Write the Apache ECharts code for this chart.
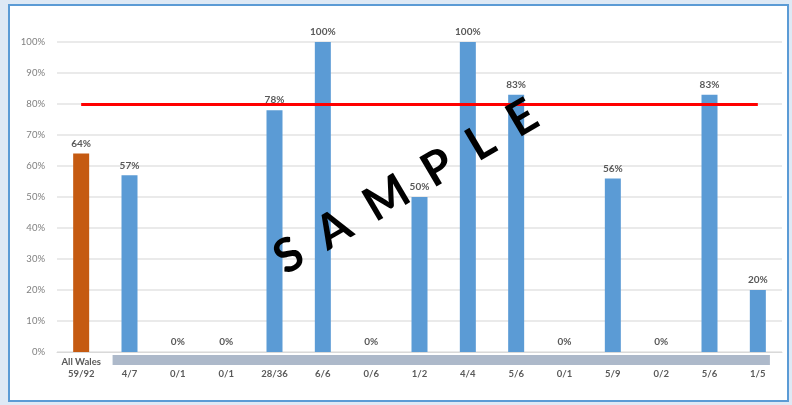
<!DOCTYPE html>
<html><head><meta charset="utf-8">
<script src="https://cdn.jsdelivr.net/npm/echarts@6/dist/echarts.min.js"></script>
<style>html,body{margin:0;padding:0;background:#dee9f5;}#c{width:792px;height:405px;}</style>
</head><body><div id="c"></div>
<script>
const categories = ['All Wales\n59/92','\n4/7','\n0/1','\n0/1','\n28/36','\n6/6','\n0/6','\n1/2','\n4/4','\n5/6','\n0/1','\n5/9','\n0/2','\n5/6','\n1/5'];
const values = [64,57,0,0,78,100,0,50,100,83,0,56,0,83,20];
const target = 80;
const yTicks = [0,10,20,30,40,50,60,70,80,90,100];

const FONT = 'Lato, "Open Sans", sans-serif';
const chart = echarts.init(document.getElementById('c'));
const option = {
  animation:false,
  backgroundColor:'#dee9f5',
  grid:{left:57,right:10,top:42,bottom:53},
  xAxis:{type:'category',data:categories,
    axisLine:{lineStyle:{color:'#d9d9d9'}},axisTick:{show:false},
    axisLabel:{color:'#595959',fontWeight:'bold',fontSize:9.5,fontFamily:FONT,lineHeight:12,margin:4,interval:0}},
  yAxis:{type:'value',min:0,max:100,interval:10,
    axisLabel:{formatter:'{value}%',color:'#808080',fontSize:9.5,fontFamily:FONT,margin:12},
    splitLine:{lineStyle:{color:'#e3e3e3',width:1.5}},axisLine:{show:false},axisTick:{show:false}},
  series:[{type:'bar',barWidth:16,
    data:values.map((v,i)=>({value:v,itemStyle:{color:i===0?'#c55a11':'#5b9bd5'}})),
    label:{show:true,position:'top',formatter:'{c}%',color:'#595959',fontWeight:'bold',fontSize:10,fontFamily:FONT,distance:5},
    markLine:{silent:true,symbol:'none',label:{show:false},lineStyle:{color:'#ff0000',width:3,type:'solid'},
      data:[[{xAxis:0,yAxis:target},{xAxis:categories.length-1,yAxis:target}]]}
  }]
};
chart.setOption(option);
const p1 = chart.convertToPixel({xAxisIndex:0},1);
const p2 = chart.convertToPixel({xAxisIndex:0},categories.length-1);
const p0 = chart.convertToPixel({yAxisIndex:0},0);
const bw = p2 - chart.convertToPixel({xAxisIndex:0},categories.length-2);
chart.setOption({graphic:[
  {type:'rect',z:-10,shape:{x:9,y:5,width:779,height:396},style:{fill:'#ffffff',stroke:'#5b9bd5',lineWidth:2}},
  {type:'rect',z:5,shape:{x:p1-0.35*bw,y:p0+3,width:(p2+0.25*bw)-(p1-0.35*bw),height:10},style:{fill:'#adb9ca'}},
  {type:'text',z:100,x:406,y:187,rotation:30.5*Math.PI/180,
    style:{text:'S  A  M  P  L  E',fill:'#000',font:'bold 47px '+FONT,align:'center',verticalAlign:'middle'}}
]});
</script></body></html>
